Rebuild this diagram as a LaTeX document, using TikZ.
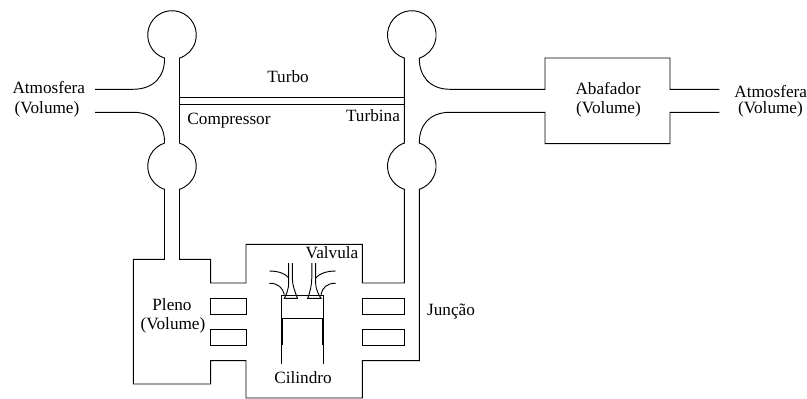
\documentclass[tikz,border=0pt]{standalone}
\usepackage{fontspec}
\setmainfont{Liberation Serif}
\tikzset{
  pipe/.style={line width=0.7pt,line join=miter},
  thickwall/.style={line width=1.5pt},
  lbl/.style={inner sep=0pt,anchor=base,font=\fontsize{12.9pt}{14pt}\selectfont}
}
\begin{document}
\begin{tikzpicture}[x=0.75pt,y=0.75pt]
\useasboundingbox (0,0) rectangle (807,-399);
% upper gas path wall
\draw[pipe] (95,-89.3) -- (133,-89.3) .. controls (155,-89.3) and (165,-75) .. (164.5,-58.1)
  arc[start angle=252,end angle=-72,radius=24.3] -- (179.5,-143.1)
  arc[start angle=72,end angle=-72,radius=24.3] -- (179.5,-259.3) -- (210.7,-259.3) -- (210.7,-283) -- (246,-283)
  -- (246,-244.3) -- (362.3,-244.3) -- (362.3,-283) -- (404.3,-283) -- (404.3,-189.3)
  arc[start angle=252,end angle=108,radius=24.3] -- (404.3,-58.1)
  arc[start angle=252,end angle=-72,radius=24.3] .. controls (419,-75) and (429,-89.3) .. (450,-89.3)
  -- (545,-89.3) -- (545,-58) -- (670,-58) -- (670,-89.3) -- (719.3,-89.3);
% lower gas path wall
\draw[pipe] (95,-112.3) -- (133,-112.3) .. controls (155,-112.3) and (165,-126) .. (164.5,-143.1)
  arc[start angle=108,end angle=252,radius=24.3] -- (164.5,-259.3) -- (133.3,-259.3) -- (133.3,-384) -- (210.7,-384)
  -- (210.7,-360.7) -- (246,-360.7) -- (246,-398) -- (362.3,-398) -- (362.3,-360.7) -- (419.3,-360.7) -- (419.3,-189.3)
  arc[start angle=-72,end angle=72,radius=24.3] .. controls (419,-126) and (429,-112.3) .. (450,-112.3)
  -- (545,-112.3) -- (545,-143.7) -- (670,-143.7) -- (670,-112.3) -- (719.3,-112.3);
% turbo shaft
\draw[pipe] (179.5,-97) -- (404.3,-97);
\draw[pipe] (179.5,-104.5) -- (404.3,-104.5);
% junction rectangles
\draw[pipe] (210.7,-298.3) rectangle (246,-314);
\draw[pipe] (210.7,-329.3) rectangle (246,-345.5);
\draw[pipe] (362.3,-298.3) rectangle (404.3,-314);
\draw[pipe] (362.3,-329.3) rectangle (404.3,-345.5);
% cylinder
\draw[pipe] (281.3,-364) -- (281.3,-295) -- (323,-295) -- (323,-364);
\draw[pipe] (281.3,-318.5) -- (323,-318.5);
\draw[thickwall] (281.8,-318) -- (281.8,-345);
\draw[thickwall] (322.5,-318) -- (322.5,-345);
% valves
\draw[pipe] (288.7,-263) -- (288.7,-282) .. controls (288.7,-290) and (286,-295) .. (284.3,-298.3)
  -- (297.5,-298.3) .. controls (295,-292) and (292.3,-285) .. (292.3,-278) -- (292.3,-263);
\draw[pipe] (315.6,-263) -- (315.6,-282) .. controls (315.6,-290) and (319,-295) .. (321,-298.3)
  -- (307.7,-298.3) .. controls (310,-292) and (311.8,-285) .. (311.8,-278) -- (311.8,-263);
% ports
\draw[pipe] (269.3,-271) .. controls (279,-271) and (286,-274) .. (288.7,-278);
\draw[pipe] (269.3,-283.3) .. controls (278,-283) and (283,-288) .. (284.3,-294.7);
\draw[pipe] (335.7,-271) .. controls (326,-271) and (319,-274) .. (315.6,-278);
\draw[pipe] (335.7,-283.3) .. controls (327,-283) and (322,-288) .. (321,-294.7);
% labels
\node[lbl] (atmL) at (48.8,-93.3) {Atmosfera};
\node[lbl] (volL) at (47,-114) {(Volume)};
\node[lbl] (turbo) at (288,-83) {Turbo};
\node[lbl] (comp) at (229,-125) {Compressor};
\node[lbl] (turb) at (373,-122) {Turbina};
\node[lbl] (abaf) at (608,-94.3) {Abafador};
\node[lbl] (volA) at (608.5,-114) {(Volume)};
\node[lbl] (atmR) at (770.7,-97.7) {Atmosfera};
\node[lbl] (volR) at (770.5,-113.3) {(Volume)};
\node[lbl] (valv) at (332,-258.3) {Valvula};
\node[lbl] (plen) at (172,-310.7) {Pleno};
\node[lbl] (volP) at (173,-329.3) {(Volume)};
\node[lbl] (junc) at (451,-315.7) {Junção};
\node[lbl] (cil) at (303,-383.3) {Cilindro};
\end{tikzpicture}
\end{document}
